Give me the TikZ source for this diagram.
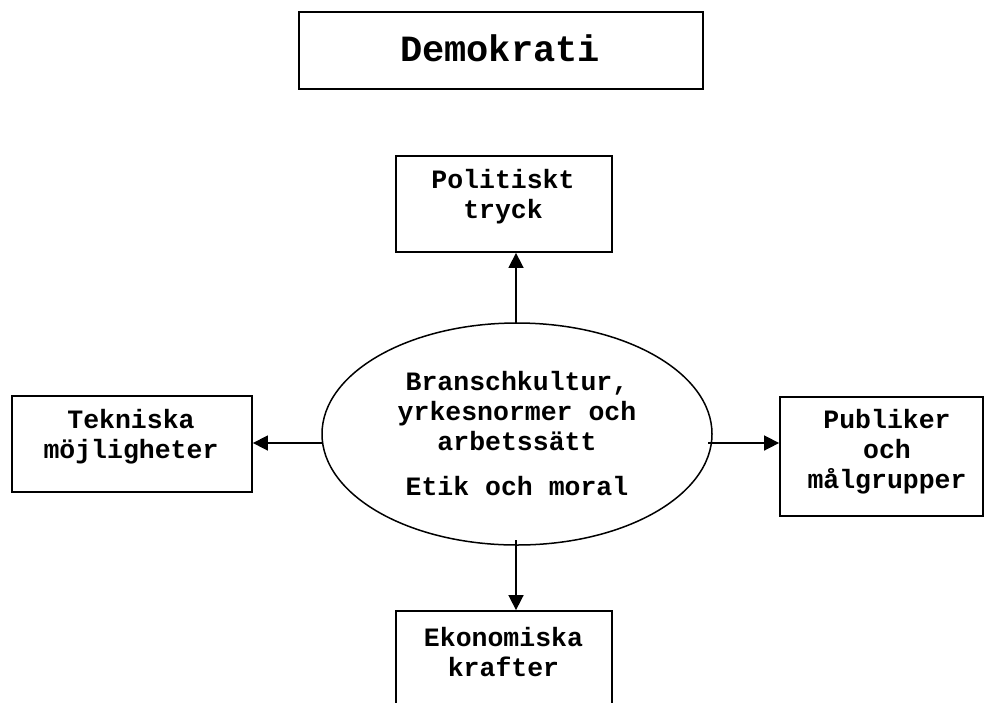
\documentclass[tikz,border=0pt]{standalone}
\usepackage{fontspec}
\setmainfont{Liberation Mono}
\usetikzlibrary{shapes.geometric,arrows.meta}
\begin{document}
\begin{tikzpicture}[x=1pt,y=1pt,
  box/.style={draw,line width=1.8pt,rectangle,inner sep=0pt},
  lbl/.style={align=center,font=\fontsize{26.5}{30}\selectfont\bfseries,inner sep=0pt},
  conn/.style={line width=1.6pt,-{Triangle[length=15pt,width=15pt]}}]
\useasboundingbox (0,0) rectangle (984,-702);
\clip (0,0) rectangle (984,-702);
% title
\node[box,minimum width=404,minimum height=77] (demo) at (501,-50.5) {};
\node[lbl,font=\fontsize{37}{40}\selectfont\bfseries] (demot) at (500,-48) {Demokrati};
% boxes
\node[box,minimum width=216,minimum height=96] (pol) at (504,-204) {};
\node[lbl] (polt) at (503,-197) {Politiskt\\tryck};
\node[box,minimum width=240,minimum height=96] (tek) at (132,-444) {};
\node[lbl] (tekt) at (131,-437) {Tekniska\\möjligheter};
\node[box,minimum width=203,minimum height=119] (pub) at (881.5,-456.5) {};
\node[lbl] (pubt) at (887,-452) {Publiker\\och\\målgrupper};
\node[box,minimum width=216,minimum height=120] (eko) at (504,-671) {};
\node[lbl] (ekot) at (503.5,-652) {Ekonomiska\\krafter};
% ellipse
\node[draw,ellipse,line width=1.5pt,minimum width=390,minimum height=222,inner sep=0pt] (ell) at (517,-434) {};
\node[lbl] (ellt) at (517,-434) {Branschkultur,\\yrkesnormer och\\arbetssätt\\[15pt]Etik och moral};
% connectors
\coordinate (us) at (516,-323);
\coordinate (ls) at (323,-443);
\coordinate (rs) at (708,-443);
\coordinate (ds) at (516,-540);
\draw[conn] (us) -- (us |- pol.south);
\draw[conn] (ls) -- (ls -| tek.east);
\draw[conn] (rs) -- (rs -| pub.west);
\draw[conn] (ds) -- (ds |- eko.north);
\end{tikzpicture}
\end{document}
